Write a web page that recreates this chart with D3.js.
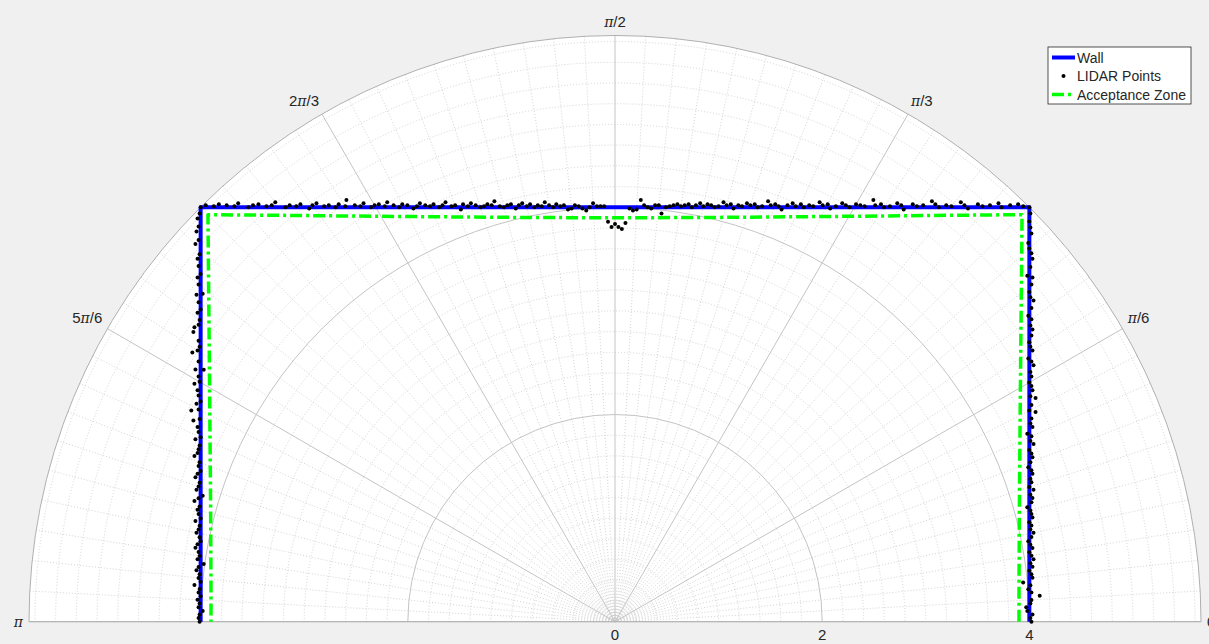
<!DOCTYPE html>
<html>
<head>
<meta charset="utf-8">
<script src="https://cdn.jsdelivr.net/npm/d3@7"></script>
<style>
  body { margin: 0; background: #f0f0f0; }
  text { font-family: "Liberation Sans", Arial, Helvetica, sans-serif; fill: #262626; }
</style>
</head>
<body>
<svg id="chart" width="1209" height="644"></svg>
<script>
// ---- data ----
// wall outline (polar: degrees, metres)
var wallDeg = [0, 45, 135, 180];
var wallR   = [4, 5.657, 5.657, 4];

// acceptance zone (polar: degrees, metres)
var accDeg = [0,5,10,15,20,25,30,35,40,45,50,55,60,65,70,75,80,85,90,
              95,100,105,110,115,120,125,130,135,140,145,150,155,160,165,170,175,180];
var accR = [3.900,3.915,3.962,4.041,4.157,4.314,4.519,4.783,5.122,5.557,5.122,4.783,4.519,4.314,4.157,4.041,3.962,3.915,3.900,
            3.915,3.962,4.041,4.157,4.314,4.519,4.783,5.122,5.557,5.122,4.783,4.519,4.314,4.157,4.041,3.962,3.915,3.900];

// LIDAR scan: one return every 0.5 deg, stored as offset from the wall (m, outward +)
var lidarStep = 0.5;
var lidarDev = [
  // right wall 0 .. 45 deg
  0.02,0.01,0.03,-0.02,-0.03,0.01,0.02,0.10,0.02,-0.01,
  0.01,-0.06,0.03,0.02,0.00,0.03,0.01,0.04,0.02,0.00,
  0.03,0.01,-0.01,0.02,0.04,0.01,0.02,0.00,0.03,0.02,
  0.01,-0.02,0.02,0.03,0.01,0.04,0.00,0.02,0.01,0.03,
  0.02,-0.01,0.01,0.03,0.02,0.00,0.04,0.01,0.02,-0.02,
  0.03,0.01,0.02,0.06,0.00,0.02,0.06,0.01,0.03,0.02,
  0.00,0.02,0.01,0.04,0.02,-0.01,0.03,0.01,0.00,0.02,
  0.03,0.01,0.02,-0.01,0.02,0.04,0.01,0.00,0.02,0.03,
  -0.02,0.01,0.03,0.02,0.00,-0.01,0.02,0.01,0.00,0.01,
  0.00,
  // top wall 45.5 .. 134.5 deg
  0.01,0.03,0.02,0.00,0.04,0.02,0.01,0.03,-0.01,0.02,
  0.05,0.01,0.02,0.00,0.03,0.06,0.02,0.01,0.03,-0.02,
  0.02,0.04,0.01,0.00,0.03,0.02,0.07,0.01,0.02,0.03,
  0.00,0.02,0.04,0.01,-0.01,0.03,0.02,0.05,0.01,0.02,
  0.00,0.03,0.01,0.04,0.02,-0.02,0.01,0.03,0.02,0.06,
  0.01,0.00,0.03,0.02,0.04,0.01,0.02,-0.01,0.03,0.02,
  0.05,0.01,0.00,0.02,0.03,0.01,0.04,0.02,0.00,0.03,
  0.02,0.01,0.03,0.02,0.01,0.00,-0.06,0.02,0.02,-0.01,
  0.00,0.02,0.07,-0.02,-0.03,-0.01,
  -0.15,-0.21,-0.19,-0.16,-0.19,-0.14,
  0.01,0.01,0.01,0.04,0.00,-0.03,-0.01,0.01,0.02,-0.01,-0.02,
  0.02,0.01,0.03,0.00,0.02,0.05,0.01,0.02,0.00,0.03,
  0.01,0.04,0.02,-0.01,0.03,0.02,0.00,0.01,0.06,0.02,
  0.03,0.01,0.00,0.02,0.04,0.01,0.03,-0.02,0.02,0.01,
  0.05,0.02,0.00,0.03,0.01,0.02,0.04,0.01,-0.01,0.02,
  0.03,0.00,0.02,0.05,0.01,0.03,0.02,0.00,0.04,0.01,
  0.02,0.07,0.01,0.03,0.00,0.02,0.01,0.04,0.02,-0.01,
  0.03,0.01,0.02,0.00,0.05,0.02,0.01,0.03,0.02,0.00,
  0.04,0.01,0.02,0.03,0.01,0.02,
  // left wall 135 .. 180 deg
  0.00,0.01,0.03,0.02,0.04,0.02,0.05,0.01,0.03,0.02,
  0.00,0.03,0.02,-0.02,0.04,0.02,0.00,0.03,0.01,0.02,
  0.06,0.07,0.02,0.01,0.03,0.08,0.02,-0.03,0.05,0.02,
  0.01,0.06,0.03,0.02,0.00,0.04,0.02,0.09,0.01,0.07,
  0.03,0.02,0.00,0.05,0.01,0.02,0.03,0.06,0.01,0.02,
  0.00,0.03,0.05,0.01,0.02,0.04,-0.02,0.02,0.06,0.01,
  0.03,0.02,0.00,0.05,0.01,0.02,0.04,0.01,0.00,0.03,
  0.05,0.02,0.01,0.03,-0.03,0.02,0.04,0.01,0.02,0.00,
  0.06,0.01,0.02,0.00,0.03,0.01,0.02,-0.02,0.01,0.02,0.01
];

var thetaTicks = [0, 30, 60, 90, 120, 150, 180];
var thetaLabels = ["0", "\u03c0/6", "\u03c0/3", "\u03c0/2", "2\u03c0/3", "5\u03c0/6", "\u03c0"];
var rTicks = [0, 2, 4];
var rTickLabels = ["0", "2", "4"];

// ---- layout ----
var cx = 615, cy = 621.7, R = 586;
var rMax = 5.657;
var rad = Math.PI / 180;

var svg = d3.select("#chart");
var r = d3.scaleLinear().domain([0, rMax]).range([0, R]);

var g = svg.append("g").attr("transform", "translate(" + cx + "," + cy + ")");

function halfCircle(rr) {
  var p = d3.path();
  p.moveTo(-rr, 0);
  p.arc(0, 0, rr, Math.PI, 2 * Math.PI);
  return p.toString();
}

// polar area
g.append("path")
  .attr("d", halfCircle(R) + "Z")
  .attr("fill", "#ffffff");

// minor grid
var minorR = d3.range(0.2, rMax, 0.2).filter(function(v) { return Math.abs(v / 2 - Math.round(v / 2)) > 0.01; });
g.selectAll(".rminor").data(minorR).enter().append("path")
  .attr("class", "rminor")
  .attr("d", function(d) { return halfCircle(r(d)); })
  .attr("fill", "none")
  .attr("stroke", "#d4d4d4")
  .attr("stroke-width", 1)
  .attr("stroke-dasharray", "1,2");

var minorT = d3.range(3, 180, 3).filter(function(d) { return d % 30 !== 0; });
g.selectAll(".tminor").data(minorT).enter().append("line")
  .attr("class", "tminor")
  .attr("x1", 0).attr("y1", 0)
  .attr("x2", function(d) { return R * Math.cos(d * rad); })
  .attr("y2", function(d) { return -R * Math.sin(d * rad); })
  .attr("stroke", "#d4d4d4")
  .attr("stroke-width", 1)
  .attr("stroke-dasharray", "1,2");

// major grid
g.selectAll(".rmajor").data(rTicks.filter(function(d) { return d > 0; })).enter().append("path")
  .attr("class", "rmajor")
  .attr("d", function(d) { return halfCircle(r(d)); })
  .attr("fill", "none")
  .attr("stroke", "#c4c4c4")
  .attr("stroke-width", 1);

g.selectAll(".tmajor").data(thetaTicks).enter().append("line")
  .attr("class", "tmajor")
  .attr("x1", 0).attr("y1", 0)
  .attr("x2", function(d) { return R * Math.cos(d * rad); })
  .attr("y2", function(d) { return -R * Math.sin(d * rad); })
  .attr("stroke", "#c4c4c4")
  .attr("stroke-width", 1);

// outer edge
g.append("path")
  .attr("d", halfCircle(R) + "Z")
  .attr("fill", "none")
  .attr("stroke", "#b0b0b0")
  .attr("stroke-width", 1);

// theta labels
var tl = g.selectAll(".tlabel").data(thetaTicks).enter().append("text")
  .attr("class", "tlabel")
  .attr("font-size", 15)
  .attr("x", function(d) { return (R + 6) * Math.cos(d * rad); })
  .attr("y", function(d) {
    var y = -(R + 6) * Math.sin(d * rad);
    return (d === 0 || d === 180) ? y + 5 : y - 3;
  })
  .attr("text-anchor", function(d) { return d < 90 ? "start" : (d === 90 ? "middle" : "end"); });
tl.each(function(d, i) {
  var parts = thetaLabels[i].split("\u03c0");
  var t = d3.select(this);
  parts.forEach(function(s, j) {
    if (j > 0) t.append("tspan").attr("font-style", "italic").attr("font-family", "DejaVu Serif, serif").attr("font-size", 14).text("\u03c0");
    if (s) t.append("tspan").text(s);
  });
});

// r labels
g.selectAll(".rlabel").data(rTicks).enter().append("text")
  .attr("class", "rlabel")
  .attr("font-size", 15)
  .attr("text-anchor", "middle")
  .attr("x", function(d) { return r(d); })
  .attr("y", 18)
  .text(function(d, i) { return rTickLabels[i]; });

// ---- series ----
var radial = d3.lineRadial()
  .angle(function(d) { return Math.PI / 2 - d[0] * rad; })
  .radius(function(d) { return r(d[1]); });

g.append("path")
  .datum(wallDeg.map(function(d, i) { return [d, wallR[i]]; }))
  .attr("d", radial)
  .attr("fill", "none")
  .attr("stroke", "#0000ff")
  .attr("stroke-width", 4)
  .attr("stroke-linejoin", "round");

// LIDAR returns: intersect each beam with the offset wall
var lidar = lidarDev.map(function(dev, i) {
  var th = i * lidarStep, t = Math.tan(th * rad), x, y;
  if (th < 45) { x = 4 + dev; y = x * t; }
  else if (th <= 135) { y = 4 + dev; x = y / t; }
  else { x = -(4 + dev); y = x * t; }
  return [th, Math.sqrt(x * x + y * y)];
});

g.selectAll(".pt").data(lidar).enter().append("circle")
  .attr("class", "pt")
  .attr("cx", function(d) { return r(d[1]) * Math.cos(d[0] * rad); })
  .attr("cy", function(d) { return -r(d[1]) * Math.sin(d[0] * rad); })
  .attr("r", 2)
  .attr("fill", "#000");

g.append("path")
  .datum(accDeg.map(function(d, i) { return [d, accR[i]]; }))
  .attr("d", radial)
  .attr("fill", "none")
  .attr("stroke", "#00ff00")
  .attr("stroke-width", 3.5)
  .attr("stroke-dasharray", "12,4,3,4")
  .attr("stroke-linejoin", "round");

// ---- legend ----
var lg = svg.append("g").attr("transform", "translate(1048,47)");
lg.append("rect").attr("width", 143).attr("height", 57)
  .attr("fill", "#fff").attr("stroke", "#262626").attr("stroke-width", 0.8);
var items = [
  { name: "Wall", type: "wall" },
  { name: "LIDAR Points", type: "pt" },
  { name: "Acceptance Zone", type: "acc" }
];
items.forEach(function(it, i) {
  var y = 10.5 + i * 18.5;
  if (it.type === "wall") {
    lg.append("line").attr("x1", 4).attr("x2", 27).attr("y1", y).attr("y2", y)
      .attr("stroke", "#0000ff").attr("stroke-width", 4);
  } else if (it.type === "pt") {
    lg.append("circle").attr("cx", 15.5).attr("cy", y).attr("r", 2).attr("fill", "#000");
  } else {
    lg.append("line").attr("x1", 4).attr("x2", 27).attr("y1", y).attr("y2", y)
      .attr("stroke", "#00ff00").attr("stroke-width", 3.5).attr("stroke-dasharray", "12,4,3,4");
  }
  lg.append("text").attr("x", 29).attr("y", y + 5).attr("font-size", 14).text(it.name);
});
</script>
</body>
</html>
